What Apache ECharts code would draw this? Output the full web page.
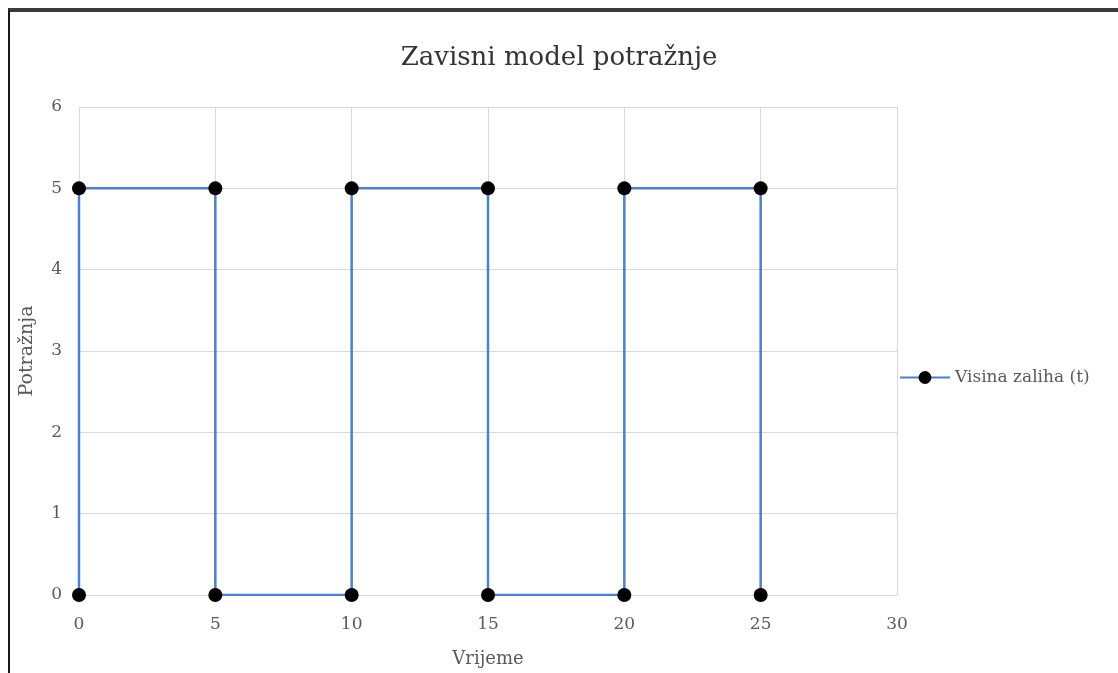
<!DOCTYPE html>
<html>
<head>
<meta charset="utf-8">
<script src="https://cdn.jsdelivr.net/npm/echarts@6/dist/echarts.min.js"></script>
<style>
  html, body { margin: 0; padding: 0; background: #fff; }
  #chart { width: 1118px; height: 673px; }
  .frame {
    position: absolute; left: 8px; top: 8px; right: 0; bottom: 0;
    border-top: 4px solid #3a3a3a; border-left: 2px solid #1a1a1a;
    pointer-events: none;
  }
</style>
</head>
<body>
<div id="chart"></div>
<div class="frame"></div>
<script>
// vrijeme / potražnja
const xValues = [0, 0, 5, 5, 10, 10, 15, 15, 20, 20, 25, 25];
const yValues = [0, 5, 5, 0, 0, 5, 5, 0, 0, 5, 5, 0];
const seriesName = "Visina zaliha (t)";

let chart = echarts.init(document.getElementById("chart"));
let labelColor = "#595959";
let font = "DejaVu Serif";

let option = {
  backgroundColor: "#fff",
  animation: false,
  title: {
    text: "Zavisni model potražnje",
    left: "center",
    top: 40,
    textStyle: {
      fontFamily: font,
      fontSize: 26,
      fontWeight: "normal",
      color: "#333",
    },
  },
  grid: {
    left: 79,
    right: 221,
    top: 107,
    bottom: 76,
  },
  legend: {
    data: [seriesName],
    left: 899,
    top: 369,
    padding: 0,
    itemWidth: 50,
    itemHeight: 16,
    itemGap: 4,
    textStyle: {
      fontFamily: font,
      fontSize: 17,
      color: labelColor,
    },
  },
  xAxis: {
    type: "value",
    min: 0,
    max: 30,
    interval: 5,
    name: "Vrijeme",
    nameLocation: "middle",
    nameGap: 55,
    nameTextStyle: { fontFamily: font, fontSize: 18, color: labelColor },
    axisLine: { show: true, lineStyle: { color: "#d9d9d9" } },
    axisTick: { show: false },
    axisLabel: { margin: 21, fontFamily: font, fontSize: 17, color: labelColor },
    splitLine: { show: true, lineStyle: { color: "#d9d9d9" } },
  },
  yAxis: {
    type: "value",
    min: 0,
    max: 6,
    interval: 1,
    name: "Potražnja",
    nameLocation: "middle",
    nameGap: 42,
    nameTextStyle: { fontFamily: font, fontSize: 19, color: labelColor },
    axisLine: { show: false },
    axisTick: { show: false },
    axisLabel: { margin: 17, fontFamily: font, fontSize: 17, color: labelColor },
    splitLine: { show: true, lineStyle: { color: "#d9d9d9" } },
  },
  series: [
    {
      name: seriesName,
      type: "line",
      data: xValues.map((x, i) => [x, yValues[i]]),
      symbol: "circle",
      symbolSize: 14,
      itemStyle: { color: "#000" },
      lineStyle: { color: "#4a7fd6", width: 2.5 },
    },
  ],
};
chart.setOption(option);
</script>
</body>
</html>
